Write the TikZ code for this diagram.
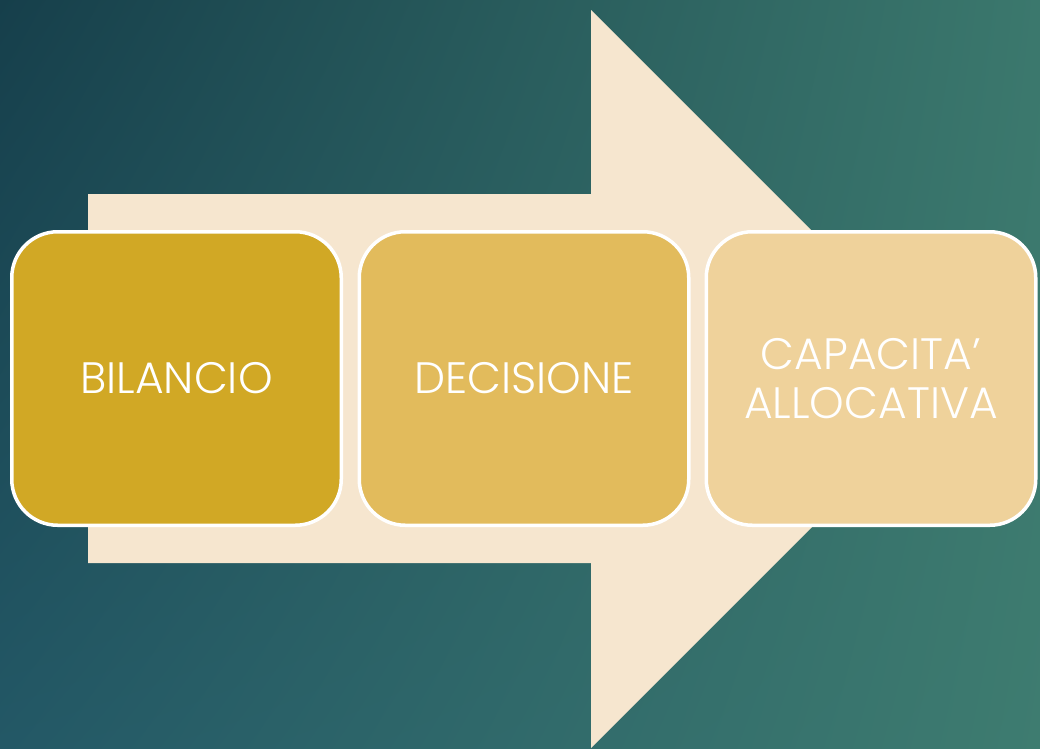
\documentclass[tikz,border=0pt]{standalone}
\usepackage{fontspec}
\usetikzlibrary{shadings}
\newfontfamily\boxfont{Poppins Light}
\definecolor{bgTL}{HTML}{163F4B}
\definecolor{bgTR}{HTML}{3B786D}
\definecolor{bgBL}{HTML}{235866}
\definecolor{bgBR}{HTML}{3E7C70}
\definecolor{cream}{HTML}{F6E6CF}
\definecolor{boxA}{HTML}{D1A825}
\definecolor{boxB}{HTML}{E2BB5C}
\definecolor{boxC}{HTML}{EFD29B}
\tikzset{
  stagebox/.style={draw=white, line width=3.5pt, rounded corners=46pt,
    minimum width=329.5pt, minimum height=293.5pt, inner sep=0pt,
    text=white, align=center, font=\boxfont\fontsize{44}{49}\selectfont},
}
\begin{document}
\begin{tikzpicture}[x=1pt,y=-1pt]
\useasboundingbox (0,0) rectangle (1040,748);
\shade[upper left=bgTL, upper right=bgTR, lower left=bgBL, lower right=bgBR] (0,0) rectangle (1040,748);
\fill[cream] (88,194) -- (591,194) -- (591,10) -- (960,379) -- (591,748) -- (591,563) -- (88,563) -- cycle;
\node[stagebox, fill=boxA] (b1) at (176.5,378.5) {BILANCIO};
\node[stagebox, fill=boxB] (b2) at (524,378.5) {DECISIONE};
\node[stagebox, fill=boxC] (b3) at (871,378.5) {CAPACITA’\\ALLOCATIVA};
\end{tikzpicture}
\end{document}
